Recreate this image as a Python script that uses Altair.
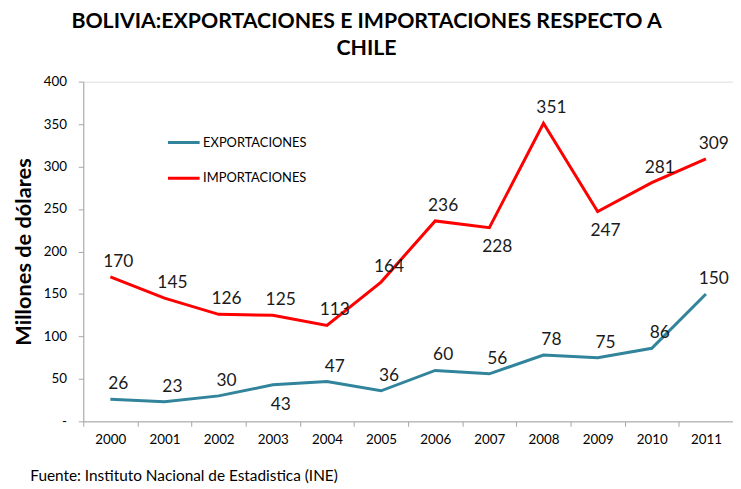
import altair as alt
import pandas as pd

anios = [str(a) for a in range(2000, 2012)]
exportaciones = [26, 23, 30, 43, 47, 36, 60, 56, 78, 75, 86, 150]
importaciones = [170, 145, 126, 125, 113, 164, 236, 228, 351, 247, 281, 309]
pos_export = ["arriba", "arriba", "arriba", "abajo", "arriba", "arriba",
              "arriba", "arriba", "arriba", "arriba", "arriba", "arriba"]
pos_import = ["arriba", "arriba", "arriba", "arriba", "arriba", "arriba",
              "arriba", "abajo", "arriba", "abajo", "arriba", "arriba"]
series = ["EXPORTACIONES", "IMPORTACIONES"]
colores = ["#31849B", "#FF0000"]

rows = []
for a, v, p in zip(anios, exportaciones, pos_export):
    rows.append({"anio": a, "serie": series[0], "valor": v, "pos": p})
for a, v, p in zip(anios, importaciones, pos_import):
    rows.append({"anio": a, "serie": series[1], "valor": v, "pos": p})
df = pd.DataFrame(rows)

FONT = "Lato"

x = alt.X("anio:O", title="Fuente: Instituto Nacional de Estadistica (INE)",
          scale=alt.Scale(type="band", paddingInner=0, paddingOuter=0),
          axis=alt.Axis(tickBand="extent", labelAngle=0, labelFontSize=13.5,
                        labelColor="#000000", labelFont=FONT, labelPadding=6,
                        tickSize=5, tickColor="#A6A6A6", domainColor="#A6A6A6",
                        titleFont=FONT, titleFontSize=15.5, titleFontWeight="normal",
                        titleColor="#000000", titleAnchor="start", titleAlign="left",
                        titleX=-54, titleY=55, titleBaseline="middle"))
y = alt.Y("valor:Q", title="Millones de dólares",
          scale=alt.Scale(domain=[0, 400], nice=False),
          axis=alt.Axis(values=list(range(0, 401, 50)),
                        labelExpr="datum.value == 0 ? '-' : datum.label",
                        labelFontSize=13.5, labelColor="#000000", labelFont=FONT,
                        labelPadding=12, tickSize=5, tickColor="#A6A6A6",
                        domainColor="#A6A6A6", grid=False,
                        titleFont=FONT, titleFontSize=22, titleFontWeight="bold",
                        titleColor="#000000", titlePadding=8))

base = alt.Chart(df)

lines = base.mark_line(strokeWidth=3).encode(
    x=x, y=y,
    color=alt.Color("serie:N",
                    scale=alt.Scale(domain=series, range=colores),
                    legend=alt.Legend(title=None, orient="none", legendX=84, legendY=44,
                                      symbolType="stroke", symbolSize=1024,
                                      symbolStrokeWidth=3, labelFont=FONT,
                                      labelFontSize=13, labelColor="#000000",
                                      labelOffset=2, rowPadding=11)),
)

arriba = base.transform_filter(alt.datum.pos == "arriba").mark_text(
    dy=-15, dx=8, fontSize=17.5, font=FONT, color="#1a1a1a", baseline="middle"
).encode(x=x, y=y, text="valor:Q")

abajo = base.transform_filter(alt.datum.pos == "abajo").mark_text(
    dy=20, dx=8, fontSize=17.5, font=FONT, color="#1a1a1a", baseline="middle"
).encode(x=x, y=y, text="valor:Q")

chart = alt.layer(lines, arriba, abajo).properties(
    width=656, height=343,
    padding={"left": 76, "top": 72, "right": 0, "bottom": 70},
    autosize="none",
    title=alt.Title(["BOLIVIA:EXPORTACIONES E IMPORTACIONES RESPECTO A", "CHILE"],
                    font=FONT, fontSize=21.5, fontWeight="bold", color="#000000",
                    anchor="middle", dx=-42, offset=15, lineHeight=28),
).configure_view(stroke=None).configure(background="white")

chart.save("out.html", embed_options={"renderer": "svg", "actions": False})
